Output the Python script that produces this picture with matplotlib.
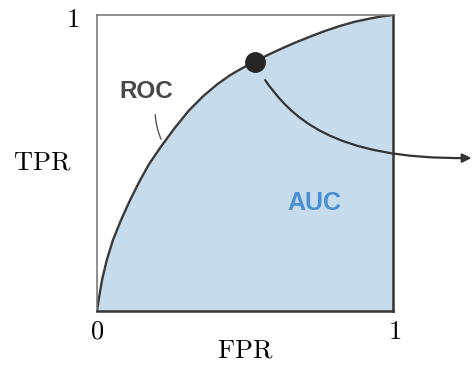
import matplotlib
matplotlib.use("Agg")
import matplotlib.pyplot as plt
from matplotlib.patches import FancyArrowPatch
from matplotlib.path import Path

plt.rcParams['mathtext.fontset'] = 'cm'

# ROC curve points (false positive rate, true positive rate)
fpr = [0, 0.006, 0.017, 0.033, 0.054, 0.081, 0.111, 0.142, 0.175, 0.213,
       0.26, 0.31, 0.36, 0.405, 0.45, 0.49, 0.534, 0.575, 0.618, 0.67,
       0.72, 0.77, 0.821, 0.87, 0.922, 0.96, 1.0]
tpr = [0, 0.04, 0.105, 0.172, 0.240, 0.307, 0.373, 0.435, 0.495, 0.551,
       0.615, 0.677, 0.727, 0.765, 0.797, 0.82, 0.842, 0.864, 0.884, 0.907,
       0.927, 0.946, 0.963, 0.977, 0.988, 0.995, 1.0]
dot_idx = 16        # operating point marked on the curve

curve_col = '#3a3a3a'
fill_col = '#c6dbec'
auc_col = '#4a8fd0'

fig = plt.figure(figsize=(4.74, 3.68), dpi=100)
ax = fig.add_axes([97/474, 57/368, 296/474, 296/368])
ax.set_xlim(0, 1)
ax.set_ylim(0, 1)
ax.set_xticks([])
ax.set_yticks([])

# area under the curve
ax.fill_between(fpr, tpr, 0, color=fill_col, lw=0)
ax.plot(fpr, tpr, color=curve_col, lw=1.7, solid_capstyle='round')
ax.plot(fpr[dot_idx], tpr[dot_idx], 'o', color='#262626', ms=14, zorder=5)

for side in ['left', 'top']:
    ax.spines[side].set_color('#707070')
    ax.spines[side].set_linewidth(1.1)
for side in ['bottom', 'right']:
    ax.spines[side].set_color('#333333')
    ax.spines[side].set_linewidth(1.8)

# labels
ax.text(0.168, 0.741, 'ROC', fontsize=17.5, fontweight='bold', color='#474747',
        family='Liberation Sans', ha='center', va='center')
ax.text(0.736, 0.365, 'AUC', fontsize=18, fontweight='bold', color=auc_col,
        family='Liberation Sans', ha='center', va='center')
ax.annotate('', xy=(0.220, 0.572), xytext=(0.196, 0.673),
            arrowprops=dict(arrowstyle='-', color='#555555', lw=1.0,
                            connectionstyle='arc3,rad=0.1'))

ax.text(-0.081, 0.983, r'$1$', fontsize=19, ha='center', va='center')
ax.text(-0.001, -0.070, r'$0$', fontsize=19, ha='center', va='center')
ax.text(1.007, -0.070, r'$1$', fontsize=19, ha='center', va='center')
ax.text(0.5, -0.132, r'$\mathrm{FPR}$', fontsize=19, ha='center', va='center')
ax.text(-0.186, 0.501, r'$\mathrm{TPR}$', fontsize=19, ha='center', va='center')

# curved arrow leaving the operating point
verts = [(0.568, 0.780), (0.652, 0.662), (0.787, 0.510), (1.265, 0.517)]
codes = [Path.MOVETO, Path.CURVE4, Path.CURVE4, Path.CURVE4]
arrow = FancyArrowPatch(path=Path(verts, codes), arrowstyle='-|>',
                        mutation_scale=13, color='#333333', lw=1.6,
                        clip_on=False)
ax.add_patch(arrow)

fig.savefig('out.png', dpi=100)
